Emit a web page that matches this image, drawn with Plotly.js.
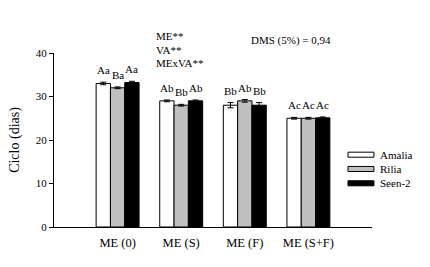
<!DOCTYPE html>
<html>
<head>
<meta charset="utf-8">
<script src="https://cdn.plot.ly/plotly-3.0.1.min.js"></script>
<style>html,body{margin:0;padding:0;background:#fff;}#chart{width:430px;height:267px;}</style>
</head>
<body>
<div id="chart"></div>
<script>
var categories = ['ME (0)', 'ME (S)', 'ME (F)', 'ME (S+F)'];
var seriesNames = ['Amalia', 'Rilia', 'Seen-2'];
var amalia = [33.0, 29.0, 28.0, 25.0];
var rilia = [32.0, 28.0, 29.0, 25.0];
var seen2 = [33.2, 29.0, 28.0, 25.1];
var amaliaErr = [0.3, 0.2, 0.6, 0.2];
var riliaErr = [0.2, 0.2, 0.3, 0.2];
var seen2Err = [0.3, 0.2, 0.6, 0.2];
var amaliaLbl = ['Aa', 'Ab', 'Bb', 'Ac'];
var riliaLbl = ['Ba', 'Bb', 'Ab', 'Ac'];
var seen2Lbl = ['Aa', 'Ab', 'Bb', 'Ac'];
var statLines = ['ME**', 'VA**', 'MExVA**'];
var dmsText = 'DMS (5%) = 0,94';
var yTicks = [0, 10, 20, 30, 40];

var FONT = '"Liberation Serif", "Times New Roman", serif';
var colors = ['#ffffff', '#c0c0c0', '#000000'];
var values = [amalia, rilia, seen2];
var errs = [amaliaErr, riliaErr, seen2Err];
var lbls = [amaliaLbl, riliaLbl, seen2Lbl];

var traces = values.map(function (v, k) {
  return {
    type: 'bar', name: seriesNames[k], x: categories, y: v,
    marker: {color: colors[k], line: {color: '#000', width: 1}},
    error_y: {type: 'data', array: errs[k], visible: true, color: '#000', thickness: 1, width: 3},
    showlegend: false, hoverinfo: 'x+y'
  };
});

var barW = 0.225;
var annotations = [];
lbls.forEach(function (arr, k) {
  arr.forEach(function (t, i) {
    annotations.push({
      xref: 'x', yref: 'y', x: i + (k - 1) * barW, y: values[k][i] + errs[k][i],
      text: t, showarrow: false, yanchor: 'bottom', xanchor: 'center', yshift: 4,
      font: {family: FONT, size: 11, color: '#000'}
    });
  });
});
var statY = [1.098, 1.020, 0.943];
statLines.forEach(function (t, i) {
  annotations.push({xref: 'paper', yref: 'paper', x: 0.3145, y: statY[i], text: t, showarrow: false,
    xanchor: 'left', yanchor: 'middle', font: {family: FONT, size: 11, color: '#000'}});
});
annotations.push({xref: 'paper', yref: 'paper', x: 0.613, y: 1.069, text: dmsText, showarrow: false,
  xanchor: 'left', yanchor: 'middle', font: {family: FONT, size: 11, color: '#000'}});

// legend
var legY = [0.4155, 0.3335, 0.2512];
var shapes = [];
seriesNames.forEach(function (n, k) {
  shapes.push({type: 'rect', xref: 'paper', yref: 'paper', x0: 0.9245, x1: 1.006,
    y0: legY[k] - 0.0145, y1: legY[k] + 0.0145, fillcolor: colors[k], line: {color: '#000', width: 1}});
  annotations.push({xref: 'paper', yref: 'paper', x: 1.019, y: legY[k], text: n, showarrow: false,
    xanchor: 'left', yanchor: 'middle', font: {family: FONT, size: 11, color: '#000'}});
});

var layout = {
  width: 430, height: 267,
  margin: {l: 54, r: 58, t: 53, b: 40, pad: 0},
  paper_bgcolor: '#fff', plot_bgcolor: '#fff',
  font: {family: FONT, size: 11, color: '#000'},
  barmode: 'group', bargap: 0.325, bargroupgap: 0,
  xaxis: {
    type: 'category', range: [-1, 4], showline: true, linecolor: '#000', linewidth: 1,
    ticks: '', showgrid: false, zeroline: false, fixedrange: true,
    tickfont: {family: FONT, size: 12.5, color: '#000'}, ticklabelstandoff: 4
  },
  yaxis: {
    range: [0, 40], tickvals: yTicks, showline: true, linecolor: '#000', linewidth: 1,
    ticks: 'outside', ticklen: 4, tickcolor: '#000', showgrid: false, zeroline: false,
    tickfont: {family: FONT, size: 11, color: '#000'},
    title: {text: 'Ciclo (dias)', font: {family: FONT, size: 14, color: '#000'}, standoff: 12}
  },
  shapes: shapes,
  annotations: annotations
};

Plotly.newPlot('chart', traces, layout, {displayModeBar: false, staticPlot: true});
</script>
</body>
</html>
